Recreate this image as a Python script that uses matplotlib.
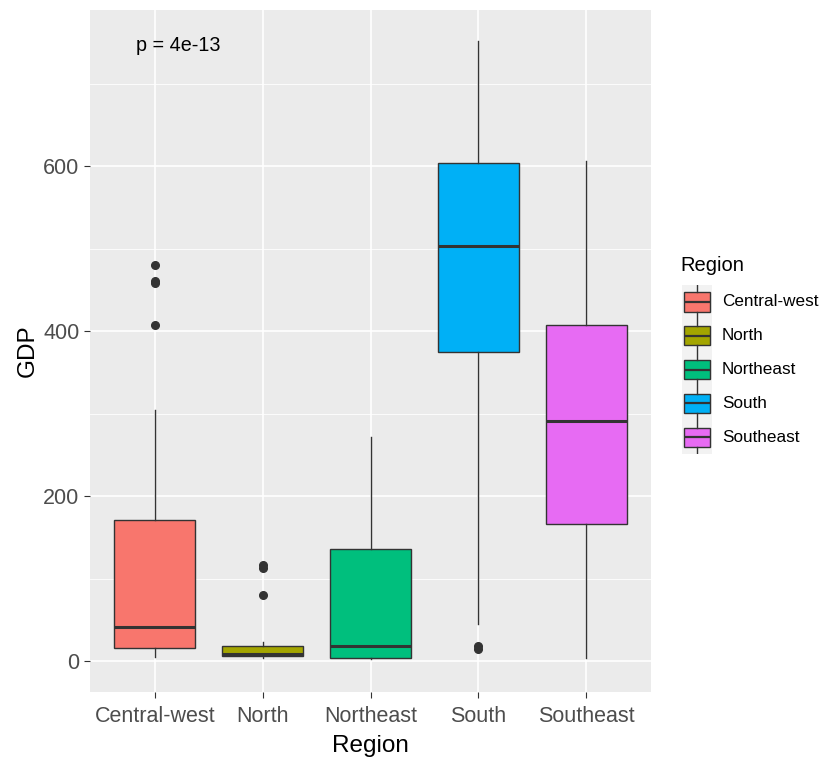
import matplotlib
matplotlib.use("Agg")
import matplotlib.pyplot as plt
from matplotlib.ticker import MultipleLocator
import numpy as np

plt.rcParams['font.family'] = ['Liberation Sans', 'DejaVu Sans']

# ----------------------------------------------------------------------------
#  DATA
# ----------------------------------------------------------------------------
regions   = ['Central-west', 'North', 'Northeast', 'South', 'Southeast']
colors    = ['#F8766D', '#A3A500', '#00BF7D', '#00B0F6', '#E76BF3']
whis_lo   = [5, 4, 3, 45, 4]
q1        = [16, 6, 4, 375, 166]
medians   = [41, 8, 18, 503, 291]
q3        = [171, 18, 136, 604, 407]
whis_hi   = [304, 23, 272, 752, 607]
outliers  = [[480, 461, 458, 408],
             [116, 113, 80],
             [],
             [18, 15],
             []]
p_label   = 'p = 4e-13'

# ----------------------------------------------------------------------------
#  PLOT
# ----------------------------------------------------------------------------
fig = plt.figure(figsize=(8.2, 7.58), dpi=100)
ax = fig.add_axes([90/820, 1 - 692/758, (651-90)/820, (692-10)/758])
ax.set_facecolor('#EBEBEB')

stats = []
for i in range(len(regions)):
    stats.append(dict(whislo=whis_lo[i], q1=q1[i], med=medians[i], q3=q3[i],
                      whishi=whis_hi[i], fliers=outliers[i], label=regions[i]))

line_col = '#333333'
bp = ax.bxp(stats, positions=np.arange(1, 6), widths=0.75, patch_artist=True,
            showcaps=False,
            boxprops=dict(edgecolor=line_col, linewidth=1.0),
            whiskerprops=dict(color=line_col, linewidth=1.0),
            medianprops=dict(color=line_col, linewidth=2.2),
            flierprops=dict(marker='o', markerfacecolor=line_col, markeredgecolor=line_col,
                            markersize=5.5))
for patch, c in zip(bp['boxes'], colors):
    patch.set_facecolor(c)

ax.set_xlim(0.4, 5.6)
ax.set_ylim(-37.6, 789.6)
ax.yaxis.set_major_locator(MultipleLocator(200))
ax.yaxis.set_minor_locator(MultipleLocator(100))
ax.grid(which='major', color='white', linewidth=1.2)
ax.grid(which='minor', axis='y', color='white', linewidth=0.6)
ax.set_axisbelow(True)
for s in ax.spines.values():
    s.set_visible(False)
ax.tick_params(which='both', length=4, color='#333333', labelsize=15.5, labelcolor='#4D4D4D')
ax.tick_params(axis='x', pad=6)
ax.tick_params(which='minor', length=0)
ax.set_xticks(np.arange(1, 6))
ax.set_xticklabels(regions)
ax.set_xlabel('Region', fontsize=17.5, labelpad=6)
ax.set_ylabel('GDP', fontsize=17.5, labelpad=3)

ax.text(1.22, 747, p_label, ha='center', va='center', fontsize=14.2, color='black')

# legend
fig.text(680/820, 1 - 266/758, 'Region', fontsize=14.5, ha='left', va='center')
for i, (name, c) in enumerate(zip(regions, colors)):
    yc = 302 + i * 33.8
    kax = fig.add_axes([682/820, 1 - (yc + 17)/758, 30/820, 34/758])
    kax.set_facecolor('#F2F2F2')
    kb = kax.bxp([dict(whislo=0, q1=0.22, med=0.5, q3=0.78, whishi=1, fliers=[])],
                 positions=[0.5], widths=0.84, patch_artist=True, showcaps=False,
                 boxprops=dict(edgecolor=line_col, linewidth=1.0),
                 whiskerprops=dict(color=line_col, linewidth=1.0),
                 medianprops=dict(color=line_col, linewidth=1.6))
    kb['boxes'][0].set_facecolor(c)
    kax.set_xlim(0, 1)
    kax.set_ylim(0, 1)
    kax.set_xticks([])
    kax.set_yticks([])
    for s in kax.spines.values():
        s.set_visible(False)
    fig.text(722/820, 1 - yc/758, name, fontsize=12.3, ha='left', va='center')

fig.savefig('out.png', dpi=100)
